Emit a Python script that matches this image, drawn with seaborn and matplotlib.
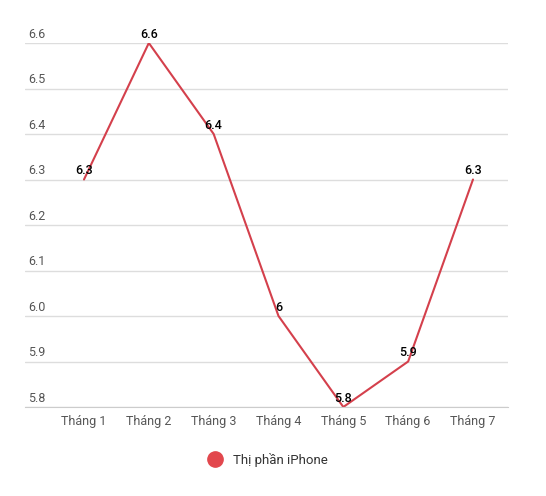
import pandas as pd
import numpy as np
import matplotlib.pyplot as plt
import seaborn as sns
from matplotlib.lines import Line2D
import matplotlib.transforms as mtransforms

# du lieu
thang = ['Tháng 1', 'Tháng 2', 'Tháng 3', 'Tháng 4', 'Tháng 5', 'Tháng 6', 'Tháng 7']
thi_phan = [6.3, 6.6, 6.4, 6.0, 5.8, 5.9, 6.3]
nhan = ['6.3', '6.6', '6.4', '6', '5.8', '5.9', '6.3']
y_ticks = [5.8, 5.9, 6.0, 6.1, 6.2, 6.3, 6.4, 6.5, 6.6]

df = pd.DataFrame({'thang': thang, 'x': range(len(thang)), 'thi_phan': thi_phan})

sns.set_style('white')
plt.rcParams['font.family'] = ['Roboto', 'DejaVu Sans']

red = '#d4404c'
fig = plt.figure(figsize=(5.46, 4.96), dpi=100)
ax = fig.add_axes([25/546, 89/496, 483/546, 364/496])

sns.lineplot(data=df, x='x', y='thi_phan', color=red, linewidth=1.5, ax=ax)

ax.set_xlim(-0.91, 6.54)
ax.set_ylim(5.8, 6.6)
ax.set_xticks(range(len(thang)))
ax.set_xticklabels(thang, color='#555555', fontsize=9)
ax.set_yticks(y_ticks)
ax.set_yticklabels([])
ax.tick_params(axis='both', length=0)
ax.tick_params(axis='x', pad=6)
ax.set_xlabel('')
ax.set_ylabel('')
ax.grid(axis='y', color='#dddddd', linewidth=1)
ax.set_axisbelow(True)
for s in ['top', 'left', 'right']:
    ax.spines[s].set_visible(False)
ax.spines['bottom'].set_color('#cccccc')

# nhan truc y nam tren duong luoi
trans = mtransforms.blended_transform_factory(ax.transAxes, ax.transData)
for v in y_ticks:
    ax.annotate('%.1f' % v, xy=(0.006, v), xycoords=trans, xytext=(0, 1.5),
                textcoords='offset points', ha='left', va='bottom',
                color='#555555', fontsize=9)

# nhan du lieu
for i, v in enumerate(thi_phan):
    ax.annotate(nhan[i], xy=(i, v), xytext=(0, 1.5), textcoords='offset points',
                ha='center', va='bottom', color='black', fontsize=9,
                fontweight='medium', annotation_clip=False)

handle = Line2D([], [], linestyle='none', marker='o', markersize=11,
                markerfacecolor='#e2474d', markeredgecolor='#e2474d')
fig.legend([handle], ['Thị phần iPhone'], loc='center', bbox_to_anchor=(0.485, 36/496),
           frameon=False, fontsize=9.5, handletextpad=0.4, labelcolor='#333333')

fig.savefig('out.png', dpi=100)
